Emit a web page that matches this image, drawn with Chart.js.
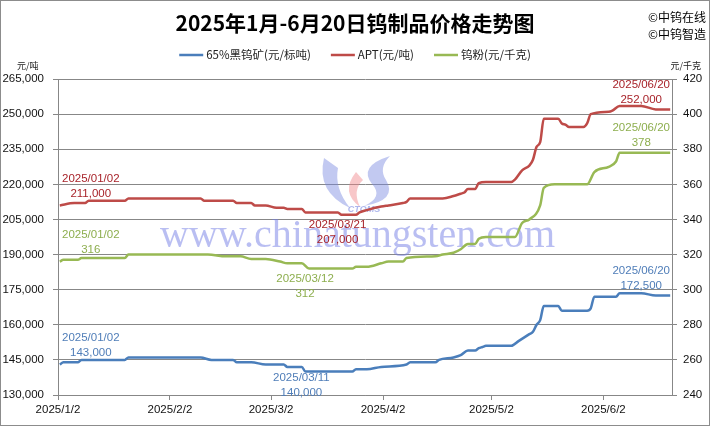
<!DOCTYPE html>
<html>
<head>
<meta charset="utf-8">
<script src="https://cdn.jsdelivr.net/npm/chart.js@4.4.1/dist/chart.umd.min.js"></script>
<style>
  html, body { margin: 0; padding: 0; background: #fff; }
  #wrap { width: 710px; height: 426px; }
</style>
</head>
<body>
<div id="wrap"><canvas id="priceChart" width="710" height="426"></canvas></div>
<script>
// Chart texts
const chartTitle = '2025年1月-6月20日钨制品价格走势图';
const seriesNames = ['65%黑钨矿(元/标吨)', 'APT(元/吨)', '钨粉(元/千克)'];
const unitLeft = '元/吨';
const unitRight = '元/千克';
const copyrightLines = ['©中钨在线', '©中钨智造'];
const watermarkText = 'www.chinatungsten.com';

// X axis: month ticks (2025)
const xTickDates = ['1/2', '2/2', '3/2', '4/2', '5/2', '6/2'];
const xRangeDays = 170; // Jan 2 .. Jun 20 (one slot per calendar day)

// Y axes
const leftRange = [130000, 265000];
const leftStep = 15000;
const rightRange = [240, 420];
const rightStep = 20;

// 65% wolframite concentrate, 元/标吨 (left axis)
const oreDates = ['01/02', '01/03', '01/07', '01/08', '01/20', '01/21', '02/10', '02/13', '02/19', '02/20',
  '02/24', '02/28', '03/05', '03/06', '03/10', '03/11', '03/24', '03/25', '03/28', '04/01',
  '04/08', '04/09', '04/16', '04/17', '04/21', '04/23', '04/25', '04/27', '04/28', '04/29',
  '04/30', '05/07', '05/09', '05/12', '05/13', '05/14', '05/15', '05/16', '05/20', '05/21',
  '05/28', '05/29', '05/30', '06/05', '06/06', '06/12', '06/16', '06/20'];
const orePrices = [143000, 144000, 144000, 145000, 145000, 146000, 146000, 145000, 145000, 144000,
  144000, 143000, 143000, 142000, 142000, 140000, 140000, 141000, 141000, 142000,
  143000, 144000, 144000, 145000, 146000, 147000, 149000, 149000, 150000, 150500,
  151000, 151000, 153000, 156000, 157000, 160000, 162000, 168000, 168000, 166000,
  166000, 167000, 172000, 172000, 173500, 173500, 172500, 172500];

// APT, 元/吨 (left axis)
const aptDates = ['01/02', '01/06', '01/09', '01/10', '01/20', '01/21', '02/10', '02/11', '02/19', '02/20',
  '02/24', '02/25', '02/28', '03/03', '03/05', '03/06', '03/10', '03/11', '03/20', '03/21',
  '03/25', '03/26', '03/28', '04/01', '04/03', '04/07', '04/08', '04/09', '04/18', '04/21',
  '04/23', '04/24', '04/25', '04/27', '04/28', '04/30', '05/07', '05/08', '05/10', '05/12',
  '05/13', '05/14', '05/15', '05/16', '05/20', '05/21', '05/22', '05/23', '05/27', '05/28',
  '05/29', '06/03', '06/04', '06/06', '06/12', '06/16', '06/20'];
const aptPrices = [211000, 212000, 212000, 213000, 213000, 214000, 214000, 213000, 213000, 212000,
  212000, 211000, 211000, 210000, 210000, 209500, 209500, 208000, 208000, 207000,
  207000, 208000, 209000, 210500, 211000, 212000, 212500, 214000, 214000, 215000,
  216000, 216500, 218000, 218000, 220500, 221000, 221000, 222000, 226000, 228000,
  230500, 236000, 238000, 248000, 248000, 246000, 245500, 244500, 244500, 246000,
  250000, 251000, 251500, 253500, 253500, 252000, 252000];

// Tungsten powder, 元/千克 (right axis)
const powderDates = ['01/02', '01/03', '01/07', '01/08', '01/20', '01/21', '02/12', '02/17', '02/21', '02/24',
  '02/28', '03/04', '03/06', '03/10', '03/12', '03/24', '03/25', '03/28', '04/01', '04/03',
  '04/07', '04/08', '04/16', '04/18', '04/21', '04/23', '04/25', '04/27', '04/28', '04/30',
  '05/08', '05/10', '05/12', '05/15', '05/16', '05/19', '05/28', '05/30', '06/03', '06/05',
  '06/06', '06/20'];
const powderPrices = [316, 317, 317, 318, 318, 320, 320, 319, 319, 317.5,
  317.5, 316, 315, 315, 312, 312, 313, 313, 315, 316,
  316, 318, 319, 320, 321, 323, 326, 326, 329, 330,
  330, 338, 340, 348, 358, 360, 360, 367, 370, 373,
  378, 378];

const colors = {
  ore: '#4A7EBB', apt: '#BE4B48', powder: '#98B954',
  oreLabel: '#4F7DB8', aptLabel: '#A8232A', powderLabel: '#8DAE4E',
  grid: '#878787', text: '#111111'
};

// day slot centre, counted from 2025/1/2
const START = Date.UTC(2025, 0, 2);
function daySlot(md) {
  const [m, d] = md.split('/').map(Number);
  return (Date.UTC(2025, m - 1, d) - START) / 86400000 + 0.5;
}
const toPoints = (dates, values) => dates.map((d, i) => ({ x: daySlot(d), y: values[i] }));

const fmt = v => v.toLocaleString('en-US');
const sansFont = '"Liberation Sans", Arial, sans-serif';
const cjkFont = '"Noto Sans CJK SC", "Liberation Sans", sans-serif';

// white background + outer frame
const framePlugin = {
  id: 'frame',
  beforeDraw(chart) {
    const { ctx, width, height } = chart;
    ctx.save();
    ctx.fillStyle = '#fff';
    ctx.fillRect(0, 0, width, height);
    ctx.strokeStyle = '#8c8c8c';
    ctx.lineWidth = 1;
    ctx.strokeRect(0.5, 0.5, width - 1, height - 1);
    ctx.restore();
  }
};

// site watermark + logo under the lines
const watermarkPlugin = {
  id: 'watermark',
  beforeDatasetsDraw(chart) {
    const { ctx } = chart;
    ctx.save();
    // logo swooshes
    ctx.fillStyle = 'rgba(120, 135, 225, 0.45)';
    ctx.beginPath();
    ctx.moveTo(324, 158);
    ctx.quadraticCurveTo(316, 192, 350, 208);
    ctx.quadraticCurveTo(334, 188, 338, 168);
    ctx.closePath();
    ctx.fill();
    ctx.beginPath();
    ctx.moveTo(390, 156);
    ctx.quadraticCurveTo(358, 166, 372, 184);
    ctx.quadraticCurveTo(384, 197, 364, 206);
    ctx.quadraticCurveTo(398, 200, 386, 180);
    ctx.quadraticCurveTo(378, 168, 390, 156);
    ctx.fill();
    ctx.fillStyle = 'rgba(240, 130, 135, 0.45)';
    ctx.beginPath();
    ctx.moveTo(356, 172);
    ctx.quadraticCurveTo(340, 192, 360, 207);
    ctx.quadraticCurveTo(352, 190, 363, 180);
    ctx.closePath();
    ctx.fill();
    ctx.fillStyle = 'rgba(120, 135, 225, 0.6)';
    ctx.font = 'italic bold 9px ' + sansFont;
    ctx.textAlign = 'center';
    ctx.textBaseline = 'middle';
    ctx.fillText('CTOMS', 364, 210);
    // site address
    ctx.fillStyle = 'rgba(115, 125, 230, 0.5)';
    ctx.font = '40px "Liberation Serif", "DejaVu Serif", serif';
    ctx.textAlign = 'left';
    ctx.textBaseline = 'alphabetic';
    ctx.fillText(watermarkText, 160, 247);
    ctx.restore();
  }
};

// title, legend, units, copyright
const headerPlugin = {
  id: 'header',
  afterDraw(chart) {
    const { ctx } = chart;
    ctx.save();
    ctx.fillStyle = '#000';
    ctx.font = 'bold 21px ' + cjkFont;
    ctx.textAlign = 'center';
    ctx.textBaseline = 'middle';
    ctx.fillText(chartTitle, 355, 23);

    ctx.font = '12px ' + cjkFont;
    ctx.textAlign = 'left';
    ctx.fillText(copyrightLines[0], 648, 17);
    ctx.fillText(copyrightLines[1], 648, 34);

    // legend, centred
    ctx.font = '11.5px ' + cjkFont;
    const lineLen = 24, gapText = 3, gapItem = 20;
    const widths = seriesNames.map(n => ctx.measureText(n).width);
    const total = widths.reduce((a, w) => a + lineLen + gapText + w, 0) + gapItem * (seriesNames.length - 1);
    let x = 355 - total / 2;
    const legendColors = [colors.ore, colors.apt, colors.powder];
    seriesNames.forEach((name, i) => {
      ctx.strokeStyle = legendColors[i];
      ctx.lineWidth = 2.5;
      ctx.beginPath();
      ctx.moveTo(x, 55);
      ctx.lineTo(x + lineLen, 55);
      ctx.stroke();
      ctx.fillStyle = '#222';
      ctx.fillText(name, x + lineLen + gapText, 55);
      x += lineLen + gapText + widths[i] + gapItem;
    });

    ctx.font = '9px ' + cjkFont;
    ctx.fillStyle = '#222';
    ctx.fillText(unitLeft, 17, 66);
    ctx.textAlign = 'right';
    ctx.fillText(unitRight, 701, 66);
    ctx.restore();
  }
};

// date / value labels on first, lowest and last point of each series
const pointLabelPlugin = {
  id: 'pointLabels',
  afterDatasetsDraw(chart) {
    const { ctx, chartArea } = chart;
    ctx.save();
    ctx.font = '11.5px ' + sansFont;
    ctx.textAlign = 'center';
    ctx.textBaseline = 'middle';
    chart.data.datasets.forEach((ds, i) => {
      const meta = chart.getDatasetMeta(i);
      const values = ds.data.map(p => p.y);
      const minIdx = values.indexOf(Math.min(...values));
      const marks = [[0, 'above'], [minIdx, 'below'], [values.length - 1, 'above']];
      ctx.fillStyle = ds.labelColor;
      marks.forEach(([idx, where]) => {
        const pt = meta.data[idx];
        const dateText = '2025/' + ds.dates[idx];
        const valueText = fmt(values[idx]);
        const w = ctx.measureText(dateText).width;
        let cx = where === 'below' ? pt.x - 4 : pt.x;
        cx = Math.max(chartArea.left + w / 2 + 4, Math.min(chartArea.right - w / 2 - 2, cx));
        let dateY, valueY;
        if (where === 'above') {
          valueY = pt.y - (idx === 0 ? 12 : 10);
          dateY = valueY - 15;
        } else {
          valueY = Math.min(pt.y + 25, chartArea.bottom - 2);
          dateY = valueY - 15;
        }
        ctx.fillText(dateText, cx, dateY);
        ctx.fillText(valueText, cx, valueY);
      });
    });
    ctx.restore();
  }
};

const lineStyle = {
  borderWidth: 2.5,
  pointRadius: 0,
  pointHoverRadius: 0,
  fill: false,
  cubicInterpolationMode: 'monotone'
};

const ctx = document.getElementById('priceChart');
new Chart(ctx, {
  type: 'line',
  data: {
    datasets: [
      {
        ...lineStyle,
        label: seriesNames[0],
        data: toPoints(oreDates, orePrices),
        dates: oreDates,
        borderColor: colors.ore,
        labelColor: colors.oreLabel,
        yAxisID: 'y'
      },
      {
        ...lineStyle,
        label: seriesNames[1],
        data: toPoints(aptDates, aptPrices),
        dates: aptDates,
        borderColor: colors.apt,
        labelColor: colors.aptLabel,
        yAxisID: 'y'
      },
      {
        ...lineStyle,
        label: seriesNames[2],
        data: toPoints(powderDates, powderPrices),
        dates: powderDates,
        borderColor: colors.powder,
        labelColor: colors.powderLabel,
        yAxisID: 'y1'
      }
    ]
  },
  options: {
    responsive: false,
    animation: false,
    devicePixelRatio: 1,
    layout: { padding: { top: 79, left: 0, right: 0, bottom: 0 } },
    plugins: {
      legend: { display: false },
      title: { display: false },
      tooltip: { enabled: false }
    },
    scales: {
      x: {
        type: 'linear',
        min: 0,
        max: xRangeDays,
        bounds: 'data',
        afterFit: s => { s.height = 31; },
        afterBuildTicks: s => {
          s.ticks = xTickDates.map(md => ({ value: daySlot(md) - 0.5 }));
        },
        ticks: {
          autoSkip: false,
          maxRotation: 0,
          padding: 3,
          color: colors.text,
          font: { family: sansFont, size: 11.5 },
          callback: (v, i) => '2025/' + xTickDates[i]
        },
        grid: { drawOnChartArea: false, drawTicks: true, tickLength: 5, color: colors.grid },
        border: { display: true, color: colors.grid }
      },
      y: {
        position: 'left',
        min: leftRange[0],
        max: leftRange[1],
        afterFit: s => { s.width = 58; },
        ticks: {
          stepSize: leftStep,
          padding: 9,
          color: colors.text,
          font: { family: sansFont, size: 11.5 },
          callback: v => fmt(v)
        },
        grid: { color: colors.grid, tickLength: 5 },
        border: { display: true, color: colors.grid }
      },
      y1: {
        position: 'right',
        min: rightRange[0],
        max: rightRange[1],
        afterFit: s => { s.width = 38; },
        ticks: {
          stepSize: rightStep,
          padding: 6,
          color: colors.text,
          font: { family: sansFont, size: 11.5 }
        },
        grid: { drawOnChartArea: false, tickLength: 5, color: colors.grid },
        border: { display: true, color: colors.grid }
      }
    }
  },
  plugins: [framePlugin, watermarkPlugin, headerPlugin, pointLabelPlugin]
});
</script>
</body>
</html>
